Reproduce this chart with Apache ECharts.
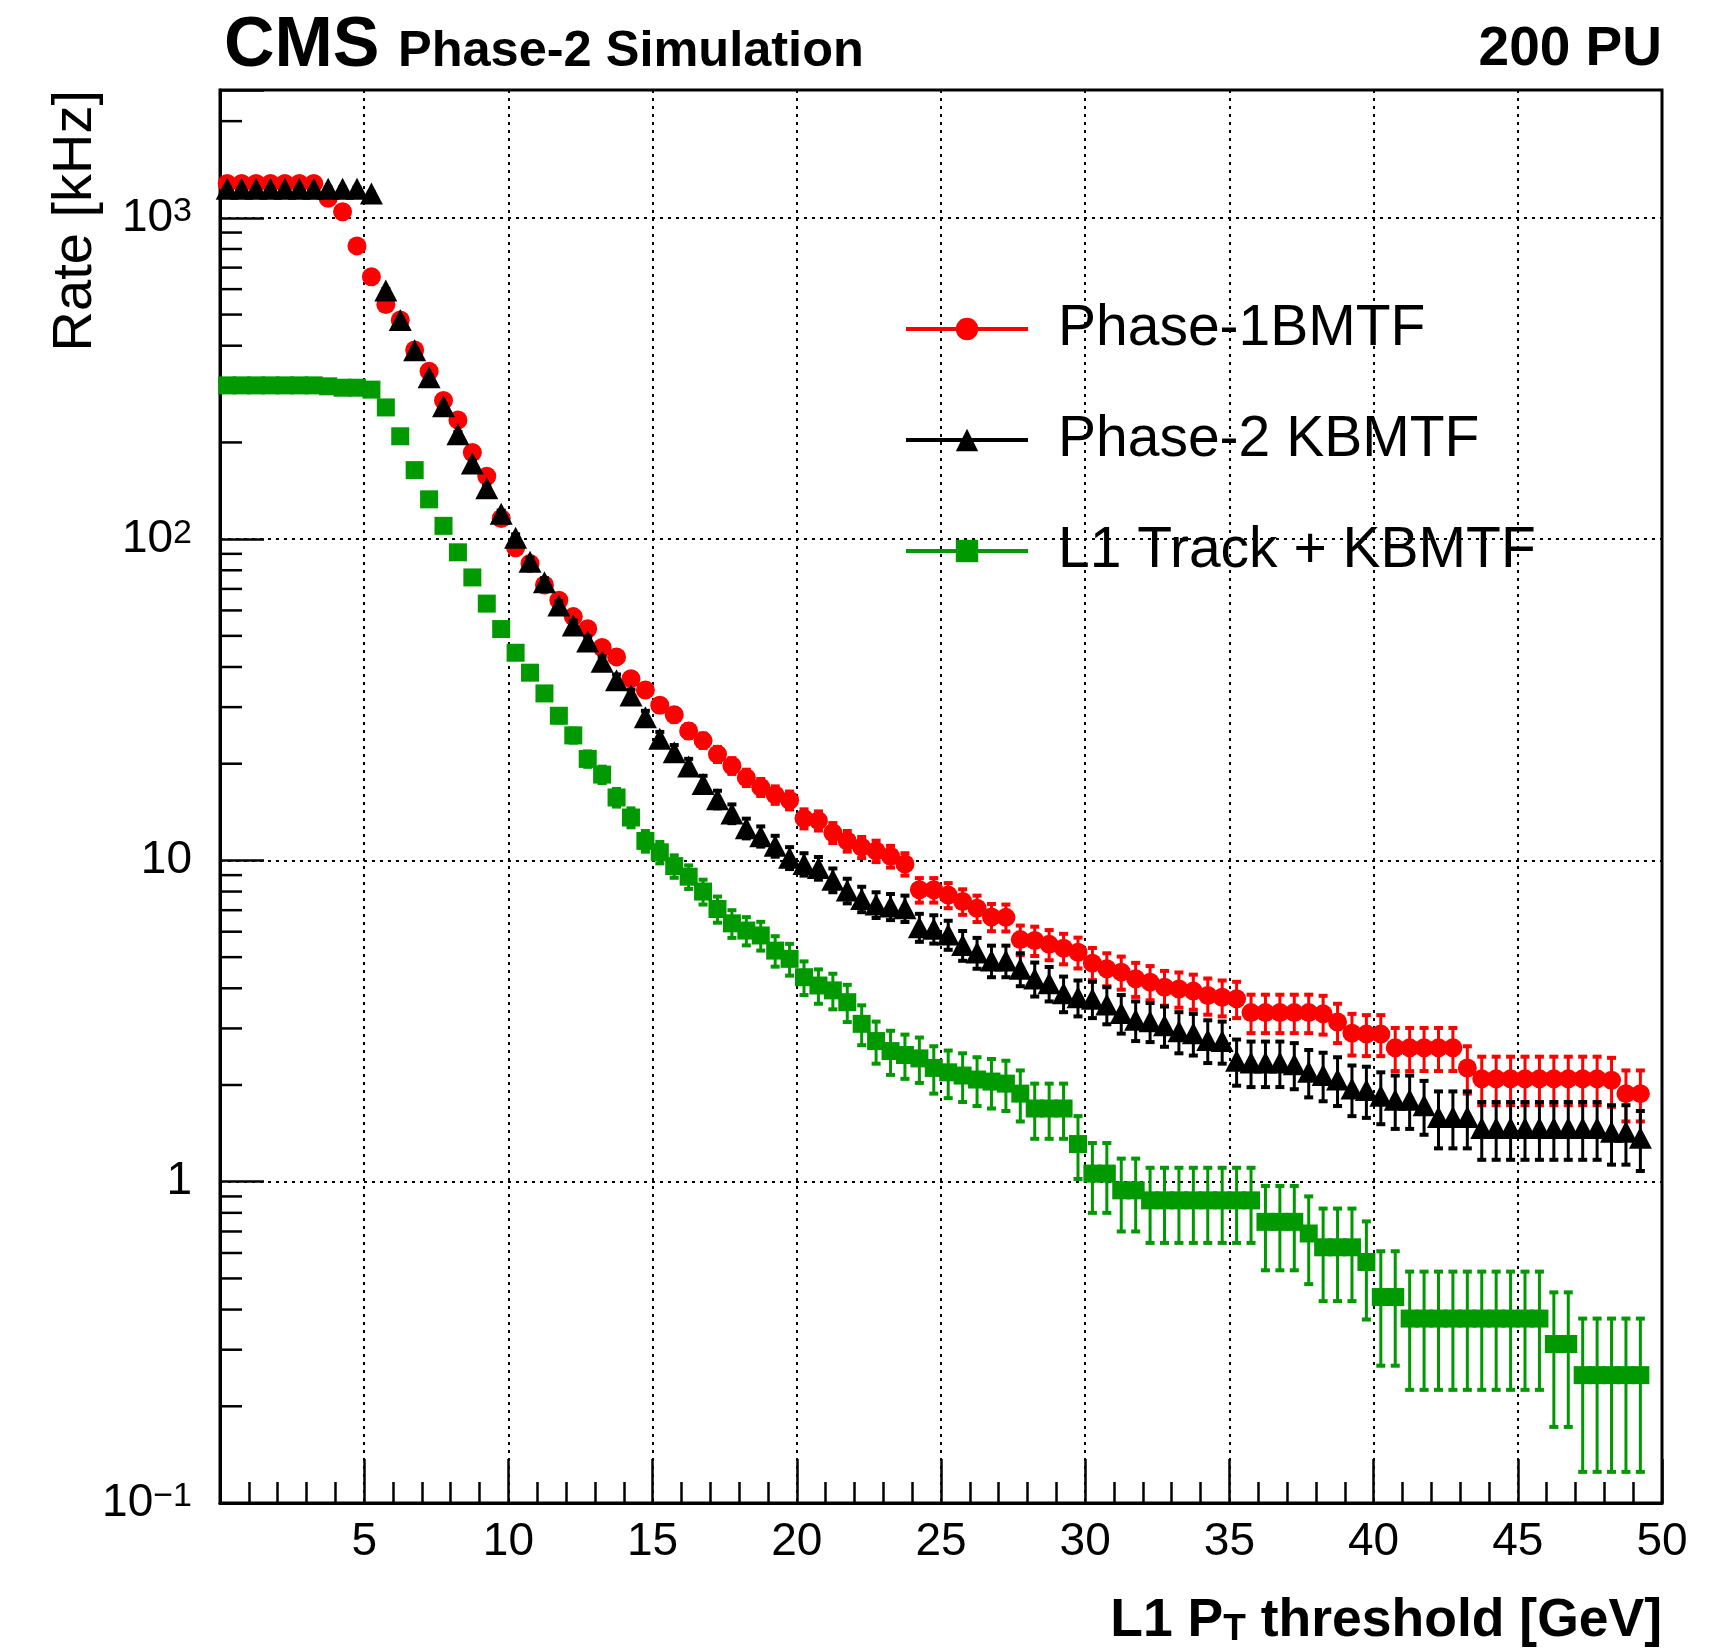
<!DOCTYPE html>
<html>
<head>
<meta charset="utf-8">
<script src="https://cdn.jsdelivr.net/npm/echarts@6.0.0/dist/echarts.min.js"></script>
<style>
  html, body { margin: 0; padding: 0; background: #fff; }
  #chart { width: 1712px; height: 1651px; }
</style>
</head>
<body>
<div id="chart"></div>
<script>
// bin centres [GeV]
var xBins = [
  0.25, 0.75, 1.25, 1.75, 2.25, 2.75, 3.25, 3.75, 4.25, 4.75,
  5.25, 5.75, 6.25, 6.75, 7.25, 7.75, 8.25, 8.75, 9.25, 9.75,
  10.25, 10.75, 11.25, 11.75, 12.25, 12.75, 13.25, 13.75, 14.25, 14.75,
  15.25, 15.75, 16.25, 16.75, 17.25, 17.75, 18.25, 18.75, 19.25, 19.75,
  20.25, 20.75, 21.25, 21.75, 22.25, 22.75, 23.25, 23.75, 24.25, 24.75,
  25.25, 25.75, 26.25, 26.75, 27.25, 27.75, 28.25, 28.75, 29.25, 29.75,
  30.25, 30.75, 31.25, 31.75, 32.25, 32.75, 33.25, 33.75, 34.25, 34.75,
  35.25, 35.75, 36.25, 36.75, 37.25, 37.75, 38.25, 38.75, 39.25, 39.75,
  40.25, 40.75, 41.25, 41.75, 42.25, 42.75, 43.25, 43.75, 44.25, 44.75,
  45.25, 45.75, 46.25, 46.75, 47.25, 47.75, 48.25, 48.75, 49.25
];

// Phase-1 BMTF rate [kHz]
var phase1Rate = [
  1280, 1280, 1280, 1280, 1280, 1280, 1280, 1150, 1045, 818,
  656, 537, 481, 388, 333, 270, 235, 186, 157, 116,
  94, 84, 72, 64.5, 57.4, 52.6, 46, 43, 36.8, 33.9,
  30.4, 28.4, 25.3, 23.6, 21.4, 19.7, 18.1, 16.9, 16.0, 15.4,
  13.5, 13.3, 12.2, 11.5, 11.0, 10.7, 10.3, 9.75, 8.1, 8.1,
  7.8, 7.45, 7.1, 6.67, 6.65, 5.67, 5.63, 5.48, 5.33, 5.18,
  4.79, 4.60, 4.49, 4.28, 4.18, 4.03, 3.98, 3.92, 3.80, 3.75,
  3.71, 3.36, 3.36, 3.36, 3.36, 3.36, 3.33, 3.14, 2.90, 2.88,
  2.88, 2.61, 2.61, 2.61, 2.61, 2.61, 2.26, 2.09, 2.09, 2.09,
  2.09, 2.09, 2.09, 2.09, 2.09, 2.09, 2.07, 1.88, 1.88
];
var phase1Err = [
  8.9, 8.9, 8.9, 8.9, 8.9, 8.9, 8.9, 8.5, 8.1, 7.2,
  6.4, 5.8, 5.5, 4.9, 4.6, 4.1, 3.8, 3.4, 3.1, 2.7,
  2.4, 2.3, 2.1, 2.0, 1.9, 1.8, 1.7, 1.64, 1.52, 1.46,
  1.38, 1.33, 1.26, 1.21, 1.16, 1.11, 1.06, 1.03, 1.0, 0.98,
  0.92, 0.91, 0.87, 0.85, 0.83, 0.82, 0.80, 0.78, 0.71, 0.71,
  0.70, 0.68, 0.67, 0.65, 0.64, 0.60, 0.59, 0.59, 0.58, 0.57,
  0.55, 0.54, 0.53, 0.52, 0.51, 0.50, 0.50, 0.49, 0.49, 0.48,
  0.48, 0.46, 0.46, 0.46, 0.46, 0.46, 0.46, 0.44, 0.43, 0.42,
  0.42, 0.40, 0.40, 0.40, 0.40, 0.40, 0.38, 0.36, 0.36, 0.36,
  0.36, 0.36, 0.36, 0.36, 0.36, 0.36, 0.36, 0.34, 0.34
];

// Phase-2 KBMTF rate [kHz]
var kbmtfRate = [
  1233, 1233, 1233, 1233, 1233, 1233, 1233, 1233, 1233, 1233,
  1190, 594, 481, 387, 319, 259, 212, 172, 144, 120,
  101, 85, 73.4, 62.2, 53.9, 48.0, 41.5, 36.4, 32.6, 27.9,
  23.9, 21.7, 19.6, 17.3, 15.5, 14.0, 12.6, 11.9, 11.1, 10.2,
  9.75, 9.48, 8.7, 8.06, 7.59, 7.29, 7.19, 7.1, 6.2, 6.13,
  5.88, 5.45, 5.17, 4.88, 4.88, 4.6, 4.29, 4.15, 3.86, 3.75,
  3.71, 3.56, 3.35, 3.19, 3.16, 3.07, 2.94, 2.90, 2.76, 2.74,
  2.38, 2.35, 2.35, 2.35, 2.32, 2.2, 2.15, 2.08, 1.95, 1.93,
  1.85, 1.80, 1.80, 1.73, 1.59, 1.59, 1.59, 1.47, 1.47, 1.47,
  1.47, 1.47, 1.47, 1.47, 1.47, 1.47, 1.43, 1.43, 1.37
];
var kbmtfErr = [
  8.8, 8.8, 8.8, 8.8, 8.8, 8.8, 8.8, 8.8, 8.8, 8.8,
  8.6, 6.1, 5.5, 4.9, 4.5, 4.0, 3.6, 3.3, 3.0, 2.7,
  2.5, 2.3, 2.14, 1.97, 1.84, 1.73, 1.61, 1.51, 1.43, 1.32,
  1.22, 1.16, 1.11, 1.04, 0.98, 0.94, 0.89, 0.86, 0.83, 0.80,
  0.78, 0.77, 0.74, 0.71, 0.69, 0.67, 0.67, 0.67, 0.62, 0.62,
  0.61, 0.58, 0.57, 0.55, 0.55, 0.54, 0.52, 0.51, 0.49, 0.48,
  0.48, 0.47, 0.46, 0.45, 0.44, 0.44, 0.43, 0.43, 0.42, 0.41,
  0.39, 0.38, 0.38, 0.38, 0.38, 0.37, 0.37, 0.36, 0.35, 0.35,
  0.34, 0.34, 0.34, 0.33, 0.32, 0.32, 0.32, 0.30, 0.30, 0.30,
  0.30, 0.30, 0.30, 0.30, 0.30, 0.30, 0.30, 0.30, 0.29
];

// L1 Track + KBMTF rate [kHz]
var trackRate = [
  301, 301, 301, 301, 301, 301, 301, 299, 296, 296,
  292, 257, 209, 164, 133, 110, 91, 76, 63, 52.5,
  44.3, 38.4, 33.1, 28.2, 24.5, 20.7, 18.5, 15.7, 13.6, 11.5,
  10.6, 9.6, 8.9, 8.0, 7.06, 6.37, 6.05, 5.84, 5.24, 4.94,
  4.33, 4.08, 3.94, 3.62, 3.10, 2.74, 2.55, 2.48, 2.42, 2.26,
  2.19, 2.14, 2.08, 2.05, 2.02, 1.88, 1.69, 1.69, 1.69, 1.31,
  1.06, 1.06, 0.94, 0.94, 0.875, 0.875, 0.875, 0.875, 0.875, 0.875,
  0.875, 0.875, 0.75, 0.75, 0.75, 0.69, 0.625, 0.625, 0.625, 0.5625,
  0.4375, 0.4375, 0.375, 0.375, 0.375, 0.375, 0.375, 0.375, 0.375, 0.375,
  0.375, 0.375, 0.3125, 0.3125, 0.25, 0.25, 0.25, 0.25, 0.25
];
var trackErr = [
  4.3, 4.3, 4.3, 4.3, 4.3, 4.3, 4.3, 4.3, 4.3, 4.3,
  4.3, 4.0, 3.6, 3.2, 2.9, 2.6, 2.4, 2.2, 2.0, 1.8,
  1.66, 1.55, 1.44, 1.33, 1.24, 1.14, 1.08, 0.99, 0.92, 0.85,
  0.81, 0.77, 0.75, 0.71, 0.66, 0.63, 0.61, 0.60, 0.57, 0.56,
  0.52, 0.50, 0.50, 0.48, 0.44, 0.41, 0.40, 0.39, 0.39, 0.38,
  0.37, 0.37, 0.36, 0.36, 0.36, 0.34, 0.33, 0.33, 0.33, 0.29,
  0.26, 0.26, 0.24, 0.24, 0.23, 0.23, 0.23, 0.23, 0.23, 0.23,
  0.23, 0.23, 0.22, 0.22, 0.22, 0.21, 0.20, 0.20, 0.20, 0.19,
  0.17, 0.17, 0.15, 0.15, 0.15, 0.15, 0.15, 0.15, 0.15, 0.15,
  0.15, 0.15, 0.14, 0.14, 0.125, 0.125, 0.125, 0.125, 0.125
];

// axis decorations
var yMinorTicks = [0.2, 0.3, 0.4, 0.5, 0.6, 0.7, 0.8, 0.9,
  2, 3, 4, 5, 6, 7, 8, 9, 20, 30, 40, 50, 60, 70, 80, 90,
  200, 300, 400, 500, 600, 700, 800, 900, 2000];
var yDecadeLabels = ['10{sup|\u22121}', '1', '10', '10{sup|2}', '10{sup|3}'];
var seriesNames = ['Phase-1BMTF', 'Phase-2 KBMTF', 'L1 Track + KBMTF'];

var FONT = "'Liberation Sans', Arial, Helvetica, sans-serif";

var points = function(vals) {
    return xBins.map(function(x, i) { return [x, vals[i]]; });
};
var withErr = function(vals, errs) {
    return xBins.map(function(x, i) { return [x, vals[i], errs[i]]; });
};

//误差棒
var errorBar = function(params, api) {
    var x = api.value(0), y = api.value(1), e = api.value(2);
    var lo = api.coord([x, y - e]);
    var hi = api.coord([x, y + e]);
    var col = api.visual('color');
    return {
        type: 'group',
        children: [
            { type: 'rect', shape: { x: lo[0] - 1.5, y: hi[1], width: 3, height: lo[1] - hi[1] }, style: { fill: col } },
            { type: 'rect', shape: { x: lo[0] - 4.5, y: lo[1] - 2, width: 9, height: 4 }, style: { fill: col } },
            { type: 'rect', shape: { x: hi[0] - 4.5, y: hi[1] - 2, width: 9, height: 4 }, style: { fill: col } }
        ]
    };
};

var markers = function(name, vals, symbol, size, color, z) {
    return {
        name: name,
        type: 'line',
        data: points(vals),
        symbol: symbol,
        symbolSize: size,
        showSymbol: true,
        lineStyle: { opacity: 0, width: 4, color: color },
        itemStyle: { color: color, borderWidth: 0 },
        emphasis: { disabled: true },
        silent: true,
        z: z
    };
};
var errors = function(vals, errs, color, z) {
    return {
        type: 'custom',
        data: withErr(vals, errs),
        renderItem: errorBar,
        encode: { x: 0, y: 1 },
        itemStyle: { color: color },
        silent: true,
        clip: true,
        z: z
    };
};

var myChart = echarts.init(document.getElementById('chart'), null, { renderer: 'canvas' });

var option = {
    animation: false,
    backgroundColor: '#fff',
    grid: {
        left: 220,
        right: 50,
        top: 90,
        bottom: 148,
        show: true,
        borderColor: '#000',
        borderWidth: 3
    },
    legend: {
        orient: 'vertical',
        left: 899,
        top: 294,
        itemWidth: 122,
        itemHeight: 28,
        itemGap: 51,
        selectedMode: false,
        data: seriesNames,
        lineStyle: { width: 4, opacity: 1 },
        textStyle: {
            fontFamily: FONT,
            fontSize: 57,
            color: '#000',
            lineHeight: 60,
            padding: [0, 0, 0, 25]
        }
    },
    xAxis: {
        type: 'value',
        min: 0,
        max: 50,
        interval: 5,
        axisLine: { lineStyle: { color: '#000', width: 3 } },
        axisTick: { inside: true, length: 44, lineStyle: { color: '#000', width: 2.5 } },
        minorTick: { show: true, splitNumber: 5, length: 21, lineStyle: { color: '#000', width: 2.5 } },
        axisLabel: {
            margin: 16,
            fontFamily: FONT,
            fontSize: 46,
            color: '#000',
            formatter: function(v) { return v === 0 ? '' : String(v); }
        },
        splitLine: { show: true, lineStyle: { color: '#000', width: 2, type: [3, 5] } }
    },
    yAxis: {
        type: 'log',
        logBase: 10,
        min: 0.1,
        max: 2500,
        axisLine: { show: true, lineStyle: { color: '#000', width: 3 } },
        axisTick: { inside: true, length: 44, lineStyle: { color: '#000', width: 2.5 } },
        axisLabel: {
            margin: 28,
            fontFamily: FONT,
            fontSize: 46,
            color: '#000',
            formatter: function(v) {
                var l = Math.log10(v), e = Math.round(l);
                if (Math.abs(l - e) > 1e-6) return '';
                return yDecadeLabels[e + 1] || '';
            },
            rich: {
                sup: { fontFamily: FONT, fontSize: 34, color: '#000', verticalAlign: 'top' }
            }
        },
        splitLine: { show: true, lineStyle: { color: '#000', width: 2, type: [3, 5] } }
    },
    graphic: [
        { type: 'text', x: 224, y: 47, style: { text: 'CMS', fontFamily: FONT, fontWeight: 'bold', fontSize: 70, fill: '#000', align: 'left', verticalAlign: 'middle' } },
        { type: 'text', x: 398, y: 52, style: { text: 'Phase-2 Simulation', fontFamily: FONT, fontWeight: 'bold', fontSize: 50.5, fill: '#000', align: 'left', verticalAlign: 'middle' } },
        { type: 'text', x: 1662, y: 50, style: { text: '200 PU', fontFamily: FONT, fontWeight: 'bold', fontSize: 55, fill: '#000', align: 'right', verticalAlign: 'middle' } },
        { type: 'text', x: 76, y: 90, rotation: Math.PI / 2, style: { text: 'Rate [kHz]', fontFamily: FONT, fontSize: 56, fill: '#000', align: 'right', verticalAlign: 'middle' } },
        {
            type: 'text', x: 1662, y: 1621,
            style: {
                text: 'L1 P{sub|T} threshold [GeV]',
                fontFamily: FONT, fontWeight: 'bold', fontSize: 53.5, fill: '#000',
                align: 'right', verticalAlign: 'middle',
                rich: { sub: { fontFamily: FONT, fontWeight: 'bold', fontSize: 37, fill: '#000', verticalAlign: 'bottom' } }
            }
        }
    ],
    series: [
        {
            type: 'custom',
            data: yMinorTicks.map(function(v) { return [0, v]; }),
            encode: { x: 0, y: 1 },
            silent: true,
            z: 1,
            renderItem: function(params, api) {
                var p = api.coord([api.value(0), api.value(1)]);
                return { type: 'line', shape: { x1: p[0], y1: p[1], x2: p[0] + 22, y2: p[1] }, style: { stroke: '#000', lineWidth: 2.5 } };
            }
        },
        errors(phase1Rate, phase1Err, '#ff0000', 2),
        markers(seriesNames[0], phase1Rate, 'circle', 19, '#ff0000', 3),
        errors(kbmtfRate, kbmtfErr, '#000000', 4),
        markers(seriesNames[1], kbmtfRate, 'triangle', [23, 22], '#000000', 5),
        errors(trackRate, trackErr, '#009900', 6),
        markers(seriesNames[2], trackRate, 'rect', 18, '#009900', 7)
    ]
};

myChart.setOption(option);
</script>
</body>
</html>
